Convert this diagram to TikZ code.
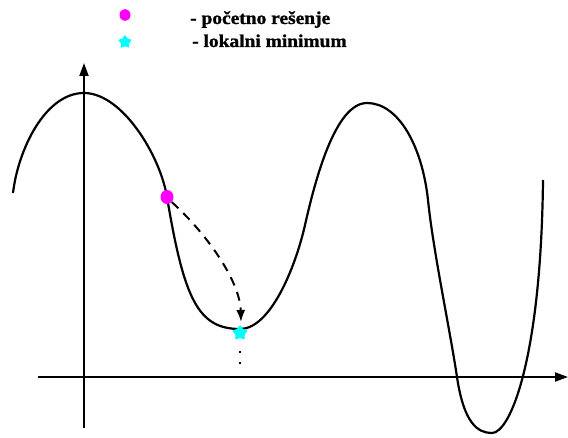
\documentclass[tikz,border=0pt]{standalone}
\usepackage{fontspec}
\setmainfont{Liberation Serif}
\newfontfamily\legfont{Liberation Serif}[BoldFeatures={FakeBold=1.2}]
\usetikzlibrary{arrows.meta,shapes.geometric}
\definecolor{dotmag}{RGB}{255,0,255}
\definecolor{starcyan}{RGB}{0,255,255}
\begin{document}
\begin{tikzpicture}[x=1pt,y=-1pt,
  axis/.style={line width=2pt,-{Triangle[length=13pt,width=9pt]}},
  curve/.style={line width=2.2pt},
  startdot/.style={ellipse,fill=dotmag,inner sep=0pt,minimum width=13pt,minimum height=14pt},
  minstar/.style={star,star points=5,star point ratio=1.6,fill=starcyan,inner sep=0pt,minimum size=16pt},
  legtext/.style={anchor=base west,inner sep=0pt,font=\legfont\bfseries\fontsize{18}{20}\selectfont,xscale=1.08}]
\useasboundingbox (0,0) rectangle (568,438);
% axes
\coordinate (xa0) at (38,377);
\coordinate (xa1) at (568,377);
\coordinate (ya0) at (84,428);
\coordinate (ya1) at (84,63);
\draw[axis] (xa0) -- (xa1);
\draw[axis] (ya0) -- (ya1);
% function
\draw[curve] (13,193) .. controls (18,150) and (45,93) .. (84,93)
  .. controls (122,93) and (160,155) .. (167,197)
  .. controls (184,299) and (198,329) .. (240,329)
  .. controls (270,329) and (295,269) .. (305,225)
  .. controls (315,181) and (335,103) .. (367,103)
  .. controls (398,103) and (422,145) .. (428,200)
  .. controls (433,250) and (450,330) .. (457,377)
  .. controls (464,424) and (478,433) .. (492,433)
  .. controls (510,433) and (541,360) .. (543,180);
% points
\node[startdot] (start) at (167,197) {};
\node[minstar] (min) at (240,333) {};
\coordinate (mintip) at (241,322);
\coordinate (dots0) at (240,351);
\coordinate (dots1) at (240,365);
\draw[line width=2pt,dash pattern=on 9pt off 7pt,-{Latex[length=12pt,width=9pt]}]
  (start.south east) .. controls (205,232) and (240,280) .. (mintip);
\draw[line width=2.2pt,dash pattern=on 2.2pt off 9pt] (dots0) -- (dots1);
% legend
\node[startdot,minimum width=11pt,minimum height=12pt] (legdot) at (125,15) {};
\node[minstar,minimum size=14pt] (legstar) at (125,42) {};
\node[legtext] (legt1) at (190,24) {- početno rešenje};
\node[legtext] (legt2) at (192,47) {- lokalni minimum};
\end{tikzpicture}
\end{document}
